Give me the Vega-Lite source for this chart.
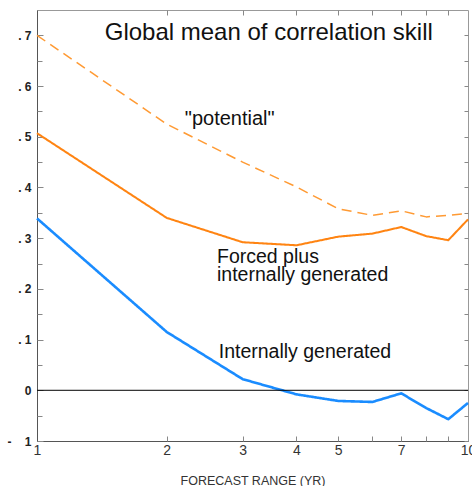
{
  "$schema": "https://vega.github.io/schema/vega-lite/v6.json",
  "width": 431,
  "height": 431,
  "autosize": "none",
  "padding": {"left": 37, "top": 10, "right": 4, "bottom": 45},
  "background": "white",
  "config": {
    "font": "Liberation Sans",
    "view": {"stroke": "#999999", "strokeWidth": 1},
    "axis": {"grid": false}
  },
  "datasets": {
    "lines": [
      {"x": 1, "y": 0.700, "series": "potential"},
      {"x": 2, "y": 0.525, "series": "potential"},
      {"x": 3, "y": 0.450, "series": "potential"},
      {"x": 4, "y": 0.401, "series": "potential"},
      {"x": 5, "y": 0.358, "series": "potential"},
      {"x": 6, "y": 0.345, "series": "potential"},
      {"x": 7, "y": 0.354, "series": "potential"},
      {"x": 8, "y": 0.342, "series": "potential"},
      {"x": 9, "y": 0.345, "series": "potential"},
      {"x": 10, "y": 0.349, "series": "potential"},
      {"x": 1, "y": 0.507, "series": "forced"},
      {"x": 2, "y": 0.340, "series": "forced"},
      {"x": 3, "y": 0.292, "series": "forced"},
      {"x": 4, "y": 0.286, "series": "forced"},
      {"x": 5, "y": 0.303, "series": "forced"},
      {"x": 6, "y": 0.309, "series": "forced"},
      {"x": 7, "y": 0.322, "series": "forced"},
      {"x": 8, "y": 0.304, "series": "forced"},
      {"x": 9, "y": 0.296, "series": "forced"},
      {"x": 10, "y": 0.337, "series": "forced"},
      {"x": 1, "y": 0.339, "series": "internal"},
      {"x": 2, "y": 0.115, "series": "internal"},
      {"x": 3, "y": 0.022, "series": "internal"},
      {"x": 4, "y": -0.008, "series": "internal"},
      {"x": 5, "y": -0.021, "series": "internal"},
      {"x": 6, "y": -0.023, "series": "internal"},
      {"x": 7, "y": -0.006, "series": "internal"},
      {"x": 8, "y": -0.035, "series": "internal"},
      {"x": 9, "y": -0.057, "series": "internal"},
      {"x": 10, "y": -0.025, "series": "internal"}
    ],
    "titleText": [
      {"x": 3.45, "y": 0.704, "text": "Global mean of correlation skill"}
    ],
    "centerLabels": [
      {"x": 2.8, "y": 0.536, "text": "\"potential\""}
    ],
    "leftLabels": [
      {"x": 2.616, "y": 0.262, "text": "Forced plus"},
      {"x": 2.616, "y": 0.227, "text": "internally generated"},
      {"x": 2.64, "y": 0.075, "text": "Internally generated"}
    ],
    "zero": [{"y": 0}]
  },
  "layer": [
    {
      "data": {"name": "lines"},
      "mark": {"type": "line", "strokeCap": "butt", "strokeJoin": "round"},
      "encoding": {
        "x": {
          "field": "x", "type": "quantitative",
          "scale": {"type": "log", "domain": [1, 10], "nice": false},
          "axis": {
            "orient": "bottom",
            "values": [1, 2, 3, 4, 5, 7, 10],
            "ticks": false,
            "domainColor": "#555555",
            "labelFontSize": 14,
            "labelColor": "#333333",
            "labelPadding": 2,
            "labelFlush": false,
            "labelOverlap": false,
            "title": "FORECAST RANGE (YR)",
            "titleFontSize": 12.5,
            "titleFontWeight": "normal",
            "titleColor": "#333333",
            "titlePadding": 17
          }
        },
        "y": {
          "field": "y", "type": "quantitative",
          "scale": {"domain": [-0.1, 0.75], "nice": false, "zero": false},
          "axis": {
            "orient": "left",
            "values": [-0.1, 0, 0.1, 0.2, 0.3, 0.4, 0.5, 0.6, 0.7],
            "labelExpr": "datum.value == 0 ? '0' : (datum.value < 0 ? '-\u00a0\u00a0\u00a0\u00a01' : '.\u00a0' + round(datum.value*10))",
            "ticks": false,
            "domainColor": "#555555",
            "labelFontSize": 12,
            "labelFontWeight": "bold",
            "labelColor": "#222222",
            "labelPadding": 6,
            "labelOverlap": false,
            "labelFlush": false,
            "title": null
          }
        },
        "color": {
          "field": "series", "type": "nominal",
          "scale": {"domain": ["potential", "forced", "internal"], "range": ["#ff9a33", "#ff8412", "#1a8cff"]},
          "legend": null
        },
        "strokeDash": {
          "field": "series", "type": "nominal",
          "scale": {"domain": ["potential", "forced", "internal"], "range": [[10, 6], [1, 0], [1, 0]]},
          "legend": null
        },
        "strokeWidth": {
          "field": "series", "type": "nominal",
          "scale": {"domain": ["potential", "forced", "internal"], "range": [1.5, 2.6, 2.6]},
          "legend": null
        }
      }
    },
    {
      "data": {"name": "zero"},
      "mark": {"type": "rule", "color": "#000000", "strokeWidth": 1},
      "encoding": {
        "y": {
          "field": "y", "type": "quantitative",
          "axis": {
            "orient": "right",
            "values": [-0.1, -0.05, 0, 0.05, 0.1, 0.15, 0.2, 0.25, 0.3, 0.35, 0.4, 0.45, 0.5, 0.55, 0.6, 0.65, 0.7],
            "labels": false,
            "tickSize": -4,
            "tickColor": "#888888",
            "domain": false,
            "title": null
          }
        }
      }
    },
    {
      "data": {"name": "titleText"},
      "mark": {"type": "text", "fontSize": 24, "align": "center", "baseline": "middle", "color": "#111111"},
      "encoding": {
        "x": {
          "field": "x", "type": "quantitative",
          "axis": {
            "orient": "top",
            "values": [2, 3, 4, 5, 6, 7, 8, 9],
            "labels": false,
            "tickSize": -5,
            "tickColor": "#888888",
            "domain": false,
            "title": null
          }
        },
        "y": {"field": "y", "type": "quantitative", "axis": null},
        "text": {"field": "text"}
      }
    },
    {
      "data": {"name": "centerLabels"},
      "mark": {"type": "text", "fontSize": 20, "align": "center", "baseline": "middle", "color": "#111111"},
      "encoding": {
        "x": {"field": "x", "type": "quantitative", "axis": null},
        "y": {
          "field": "y", "type": "quantitative",
          "axis": {
            "orient": "left",
            "values": [-0.1, -0.05, 0, 0.05, 0.1, 0.15, 0.2, 0.25, 0.3, 0.35, 0.4, 0.45, 0.5, 0.55, 0.6, 0.65, 0.7],
            "labels": false,
            "tickSize": {"condition": {"test": "abs(datum.value*10 - round(datum.value*10)) < 0.001", "value": -6}, "value": -5},
            "tickColor": "#888888",
            "domain": false,
            "title": null
          }
        },
        "text": {"field": "text"}
      }
    },
    {
      "data": {"name": "leftLabels"},
      "mark": {"type": "text", "fontSize": 19.5, "align": "left", "baseline": "middle", "color": "#111111"},
      "encoding": {
        "x": {
          "field": "x", "type": "quantitative",
          "axis": {
            "orient": "bottom",
            "values": [2, 3, 4, 5, 6, 7, 8, 9],
            "labels": false,
            "tickSize": -5,
            "tickColor": "#888888",
            "domain": false,
            "title": null
          }
        },
        "y": {"field": "y", "type": "quantitative", "axis": null},
        "text": {"field": "text"}
      }
    }
  ],
  "resolve": {"axis": {"x": "independent", "y": "independent"}}
}
